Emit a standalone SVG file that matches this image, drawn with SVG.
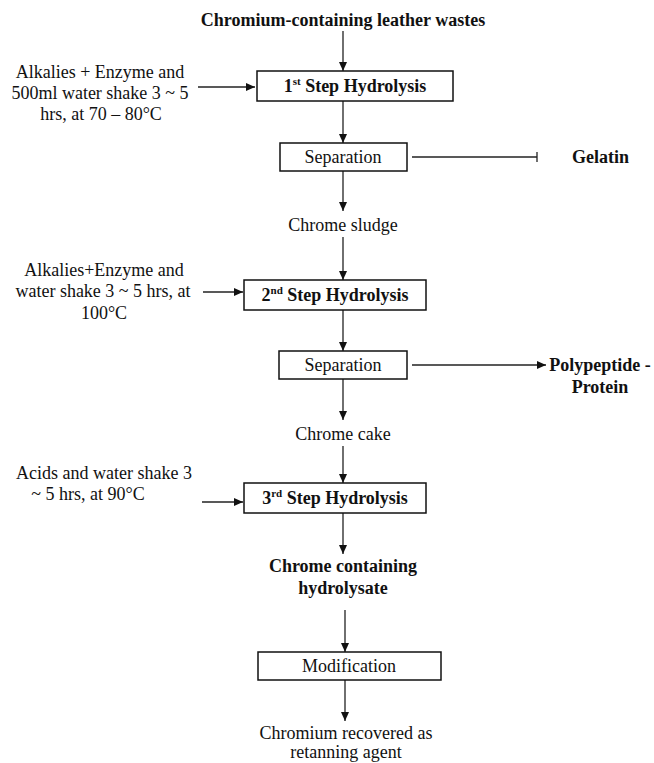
<svg xmlns="http://www.w3.org/2000/svg" width="654" height="763" viewBox="0 0 654 763">
<defs>
<marker id="ah" markerWidth="10" markerHeight="10" refX="9" refY="4" orient="auto" markerUnits="userSpaceOnUse">
<path d="M0,0 L9,4 L0,8 Z" fill="#111"/>
</marker>
<style>
.t{font-family:'Liberation Serif','Times New Roman',Times,'DejaVu Serif',serif;font-size:18px;fill:#111}
.b{font-weight:bold}
.m{text-anchor:middle}
.sup{font-size:11px}
.box{fill:#fff;stroke:#111;stroke-width:1.5}
#connectors line{stroke:#222;stroke-width:1.3}
.arr{marker-end:url(#ah)}
</style>
</defs>
<rect x="0" y="0" width="654" height="763" fill="#fff"/>
<g id="connectors">
<line class="arr" x1="343" y1="31" x2="343" y2="71"/>
<line class="arr" x1="198" y1="87" x2="255" y2="87"/>
<line class="arr" x1="343" y1="101" x2="343" y2="143"/>
<line x1="412" y1="157" x2="537" y2="157"/>
<line x1="537" y1="152" x2="537" y2="162"/>
<line class="arr" x1="343" y1="171" x2="343" y2="211"/>
<line class="arr" x1="343" y1="237" x2="343" y2="280"/>
<line class="arr" x1="203" y1="292" x2="243" y2="292"/>
<line class="arr" x1="343" y1="310" x2="343" y2="351"/>
<line class="arr" x1="412" y1="365" x2="546" y2="365"/>
<line class="arr" x1="343" y1="379" x2="343" y2="420"/>
<line class="arr" x1="343" y1="446" x2="343" y2="483"/>
<line class="arr" x1="202" y1="502" x2="243" y2="502"/>
<line class="arr" x1="343" y1="513" x2="343" y2="554"/>
<line class="arr" x1="345" y1="610" x2="345" y2="652"/>
<line class="arr" x1="345" y1="680" x2="345" y2="721"/>
</g>
<g font-family="'Liberation Serif', 'Times New Roman', 'DejaVu Serif', serif" font-size="18">
<g id="n-wastes"><text class="t b m" x="343" y="26">Chromium-containing leather wastes</text></g>
<g id="n-input1">
<text class="t m" x="100" y="78">Alkalies + Enzyme and</text>
<text class="t m" x="100" y="99">500ml water shake 3 ~ 5</text>
<text class="t m" x="101" y="120">hrs, at 70 – 80°C</text>
</g>
<g id="n-step1"><rect class="box" x="257" y="71" width="196" height="30"/>
<text class="t b m" x="355" y="92">1<tspan class="sup" dy="-7">st</tspan><tspan dy="7"> Step Hydrolysis</tspan></text></g>
<g id="n-sep1"><rect class="box" x="280" y="143" width="127" height="28"/>
<text class="t m" x="343" y="163">Separation</text></g>
<g id="n-gelatin"><text class="t b" x="572" y="163">Gelatin</text></g>
<g id="n-sludge"><text class="t m" x="343" y="231">Chrome sludge</text></g>
<g id="n-input2">
<text class="t m" x="104" y="276">Alkalies+Enzyme and</text>
<text class="t m" x="103" y="297">water shake 3 ~ 5 hrs, at</text>
<text class="t m" x="104" y="319">100°C</text>
</g>
<g id="n-step2"><rect class="box" x="244" y="280" width="182" height="30"/>
<text class="t b m" x="335" y="301">2<tspan class="sup" dy="-7">nd</tspan><tspan dy="7"> Step Hydrolysis</tspan></text></g>
<g id="n-sep2"><rect class="box" x="279" y="351" width="128" height="28"/>
<text class="t m" x="343" y="371">Separation</text></g>
<g id="n-poly">
<text class="t b m" x="600" y="371">Polypeptide -</text>
<text class="t b m" x="600" y="393">Protein</text>
</g>
<g id="n-cake"><text class="t m" x="343" y="440">Chrome cake</text></g>
<g id="n-input3">
<text class="t m" x="104" y="479">Acids and water shake 3</text>
<text class="t m" x="88" y="500">~ 5 hrs, at 90°C</text>
</g>
<g id="n-step3"><rect class="box" x="244" y="483" width="182" height="30"/>
<text class="t b m" x="335" y="504">3<tspan class="sup" dy="-7">rd</tspan><tspan dy="7"> Step Hydrolysis</tspan></text></g>
<g id="n-hydrolysate">
<text class="t b m" x="343" y="572">Chrome containing</text>
<text class="t b m" x="343" y="594">hydrolysate</text>
</g>
<g id="n-mod"><rect class="box" x="258" y="652" width="183" height="28"/>
<text class="t m" x="349" y="672">Modification</text></g>
<g id="n-result">
<text class="t m" x="346" y="739">Chromium recovered as</text>
<text class="t m" x="346" y="758">retanning agent</text>
</g>
</g>
</svg>
